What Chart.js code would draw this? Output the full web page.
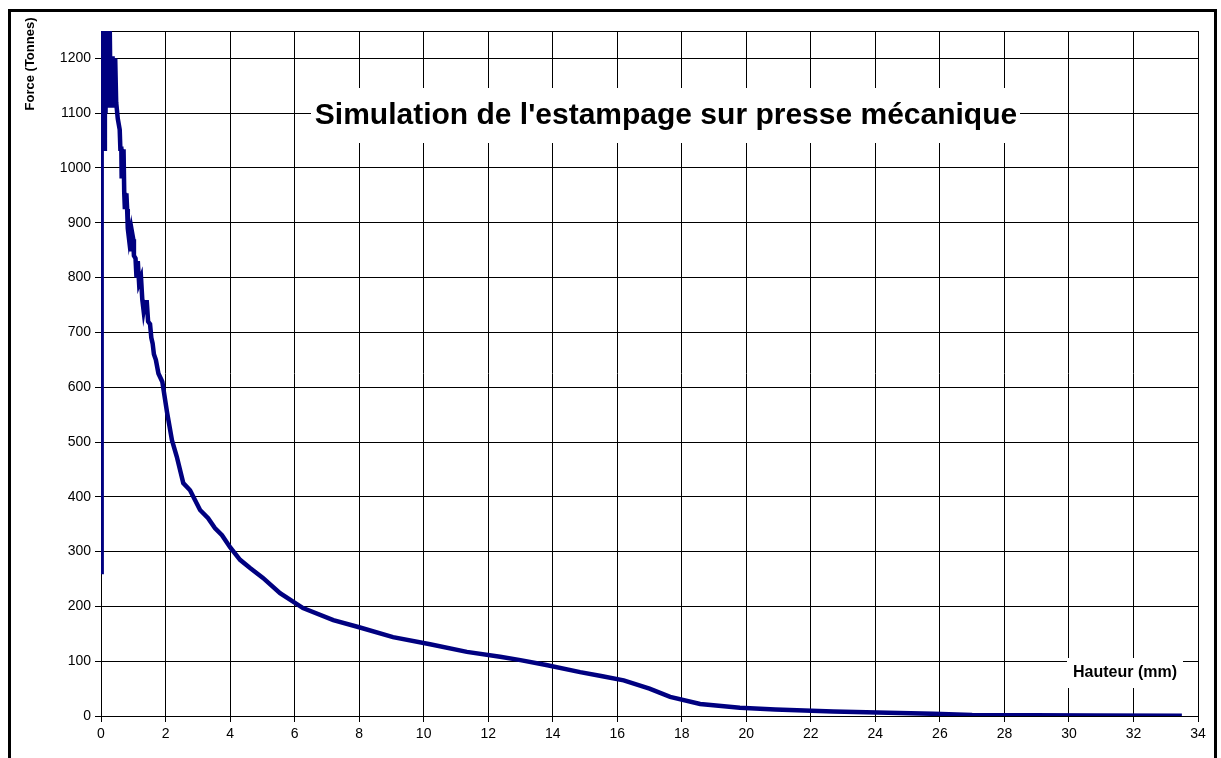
<!DOCTYPE html>
<html lang="fr">
<head>
    <meta charset="UTF-8">
    <title>Simulation de l'estampage</title>
    <script src="https://cdn.jsdelivr.net/npm/chart.js"></script>
    <style>
        body {
            margin: 0;
            background: #fff;
        }

        #chart-div {
            position: relative;
            width: 1221px;
            height: 758px;
        }
    </style>
</head>
<body>

    <div id="chart-div">
        <canvas id="chart" width="1221" height="758"></canvas>
    </div>

    <script>
        // Hauteur (mm) / Force (Tonnes)
        const hauteur = [
            0, 0.02, 0.04, 0.06, 0.08, 0.10, 0.12, 0.14, 0.17, 0.19,
            0.22, 0.24, 0.27, 0.30, 0.33, 0.36, 0.40, 0.44, 0.47, 0.52,
            0.58, 0.60, 0.63, 0.64, 0.67, 0.68, 0.70, 0.72, 0.74, 0.77,
            0.79, 0.81, 0.83, 0.86, 0.89, 0.92, 0.94, 0.97, 1.00, 1.02,
            1.07, 1.10, 1.14, 1.18, 1.24, 1.28, 1.32, 1.36, 1.42, 1.46,
            1.52, 1.56, 1.60, 1.64, 1.70, 1.78, 1.90, 2.05, 2.20, 2.35,
            2.55, 2.76, 3.07, 3.32, 3.53, 3.75, 4.00, 4.31, 4.62, 5.02,
            5.55, 6.26, 7.20, 8.00, 9.05, 10.2, 11.34, 12.37, 13.0, 13.8,
            14.85, 15.5, 16.2, 17.0, 17.64, 18.57, 19.8, 20.9, 22.7, 24.4,
            25.8, 27.0, 30.8, 33.5
        ];
        const force = [
            263, 1040, 1290, 1050, 1290, 1035, 1280, 1100, 1290, 1120,
            1270, 1110, 1260, 1110, 1200, 1200, 1110, 1200, 1120, 1090,
            1070, 1035, 1035, 985, 985, 1030, 1030, 955, 925, 950,
            950, 925, 890, 875, 890, 880, 848, 880, 870, 840,
            835, 800, 830, 790, 800, 760, 740, 755, 755, 720,
            715, 690, 680, 660, 650, 625, 610, 553, 503, 473,
            425, 412, 376, 361, 343, 330, 308, 285, 270, 252,
            224, 197, 175, 162, 144, 131, 117, 108, 102, 93,
            80, 73, 65, 50, 35, 22, 15, 12, 8, 6,
            4, 2, 1, 0.5
        ];

        const titre = "Simulation de l'estampage sur presse mécanique";
        const titreX = 'Hauteur (mm)';
        const titreY = 'Force (Tonnes)';

        const points = hauteur.map((h, i) => ({ x: h, y: force[i] }));

        // boxes and frame drawn on top of the grid
        const decor = {
            id: 'decor',
            beforeDatasetsDraw(chart) {
                const c = chart.ctx;
                const a = chart.chartArea;
                c.save();
                c.strokeStyle = '#000';
                c.lineWidth = 1;
                c.strokeRect(a.left + 0.5, a.top + 0.5, a.right - a.left, a.bottom - a.top);

                c.fillStyle = '#fff';
                c.fillRect(311, 88, 709, 55);
                c.fillRect(1067, 658, 116, 30);

                c.fillStyle = '#000';
                c.textBaseline = 'middle';
                c.textAlign = 'center';
                c.font = 'bold 30px "Liberation Sans", Arial, sans-serif';
                c.fillText(titre, 666, 116);
                c.font = 'bold 16px "Liberation Sans", Arial, sans-serif';
                c.fillText(titreX, 1125, 673);

                c.translate(30, 64);
                c.rotate(-Math.PI / 2);
                c.font = 'bold 13px "Liberation Sans", Arial, sans-serif';
                c.fillText(titreY, 0, 0);
                c.restore();
            },
            afterDraw(chart) {
                const c = chart.ctx;
                c.save();
                c.strokeStyle = '#000';
                c.lineWidth = 3;
                c.strokeRect(9.5, 10.5, 1206, 760);
                c.restore();
            }
        };

        const ctx = document.getElementById('chart').getContext('2d');
        const chart = new Chart(ctx, {
            type: 'scatter',
            data: {
                datasets: [{
                    label: 'Force',
                    data: points,
                    showLine: true,
                    borderColor: '#000080',
                    borderWidth: 4.5,
                    pointRadius: 0,
                    tension: 0
                }]
            },
            options: {
                responsive: false,
                animation: false,
                layout: {
                    padding: { left: 0, top: 31, right: 23, bottom: 0 }
                },
                plugins: {
                    legend: { display: false },
                    tooltip: { enabled: false }
                },
                scales: {
                    x: {
                        type: 'linear',
                        min: 0,
                        max: 34,
                        afterFit(s) { s.height = 42; },
                        grid: { color: '#000', lineWidth: 1, tickLength: 6 },
                        border: { color: '#000', width: 1 },
                        ticks: {
                            stepSize: 2,
                            color: '#000',
                            padding: 4,
                            maxRotation: 0,
                            callback: v => String(v),
                            font: { family: '"Liberation Sans", Arial, sans-serif', size: 14 }
                        }
                    },
                    y: {
                        min: 0,
                        max: 1250,
                        afterFit(s) { s.width = 101; },
                        afterBuildTicks(s) { s.ticks = s.ticks.filter(t => t.value <= 1200); },
                        grid: { color: '#000', lineWidth: 1, tickLength: 6 },
                        border: { color: '#000', width: 1 },
                        ticks: {
                            stepSize: 100,
                            color: '#000',
                            padding: 4,
                            callback: v => String(v),
                            font: { family: '"Liberation Sans", Arial, sans-serif', size: 14 }
                        }
                    }
                }
            },
            plugins: [decor]
        });
    </script>
</body>
</html>
